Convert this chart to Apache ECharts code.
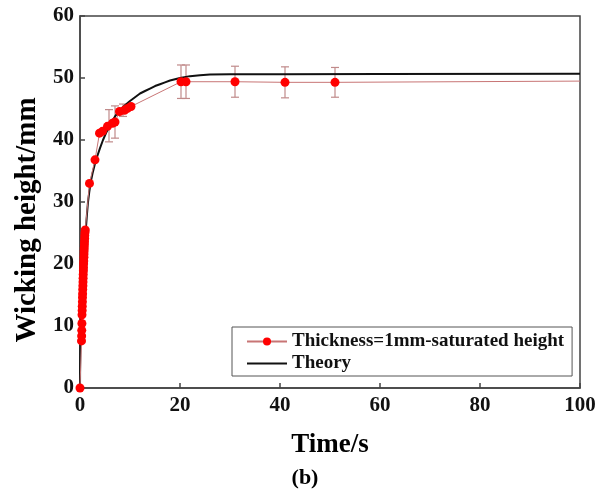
<!DOCTYPE html>
<html>
<head>
<meta charset="utf-8">
<script src="https://cdn.jsdelivr.net/npm/echarts@6/dist/echarts.min.js"></script>
<style>html,body{margin:0;padding:0;background:#fff}#c{width:611px;height:495px}</style>
</head>
<body>
<div id="c"></div>
<script>
// Experimental data: [time (s), wicking height (mm)]
var expData = [
  [0,0],[0.3,7.6],[0.33,8.4],[0.35,9.3],[0.38,10.4],[0.4,11.8],[0.43,12.5],[0.45,13.2],
  [0.48,13.9],[0.5,14.6],[0.52,15.2],[0.55,15.9],[0.58,16.5],[0.6,17.1],[0.62,17.7],
  [0.65,18.3],[0.68,18.9],[0.7,19.4],[0.72,20.0],[0.75,20.5],[0.78,21.1],[0.8,21.6],
  [0.82,22.1],[0.85,22.6],[0.88,23.1],[0.9,23.6],[0.93,24.1],[0.95,24.6],[1.0,25.1],[1.05,25.5],
  [1.9,33.0],[3.0,36.8],[3.9,41.1],[4.5,41.4],[5.5,42.2],[6.5,42.7],[7.0,42.9],
  [7.9,44.6],[8.9,44.8],[9.5,45.1],[10.2,45.4],
  [20.2,49.4],[21.2,49.4],[31,49.4],[41,49.3],[51,49.3]
];
// trailing line end (no marker)
var expTail = [[100,49.5]];
// Error bars: [time, mean, half-range]
var errData = [
  [5.8,42.3,2.6],[7.0,42.9,2.6],[8.6,44.8,1.0],
  [20.2,49.4,2.7],[21.2,49.4,2.7],[31,49.4,2.5],[41,49.3,2.5],[51,49.3,2.4]
];
// Theory curve points
var theoryData = [
  [0,0],[0.02,3],[0.05,5.5],[0.1,8],[0.15,10],[0.25,12.8],[0.35,15],[0.5,17.6],[0.6,19.2],
  [0.75,21.2],[0.9,23],[1.05,24.6],[1.2,26],[1.4,28.1],[1.6,30],[1.85,31.6],[2.1,33],
  [2.5,34.6],[3,36.2],[3.5,37.5],[4,38.7],[4.6,40],[5.2,41.1],[6,42.4],[7,43.8],
  [8,44.8],[9,45.6],[10,46.3],[11,46.9],[12,47.5],[13,47.9],[14,48.3],[15,48.7],
  [16,49.0],[17,49.3],[18,49.6],[19,49.8],[20,50.0],[22,50.3],[24,50.45],[26,50.55],
  [30,50.6],[40,50.6],[60,50.65],[100,50.7]
];
var xTicks = [0,20,40,60,80,100];
var yTicks = [0,10,20,30,40,50,60];

var FONT = '"Liberation Serif","Times New Roman",serif';
var chart = echarts.init(document.getElementById('c'));

var expSeriesData = expData.map(function(p){return p;}).concat(
  expTail.map(function(p){return {value:p, symbolSize:0};}));

chart.setOption({
  animation:false,
  title:{text:'(b)', left:300, top:462, textAlign:'center',
    textStyle:{fontFamily:FONT, fontWeight:'bold', fontSize:22, color:'#000'}},
  graphic:[{
    type:'text', x:28, y:220, rotation:Math.PI/2,
    style:{text:'Wicking height/mm', fontFamily:FONT, fontWeight:'bold', fontSize:29,
      fill:'#000', align:'center', verticalAlign:'middle'}
  }],
  grid:{left:80, right:31, top:16, bottom:107, show:true, borderColor:'#444', borderWidth:1.5,
    backgroundColor:'transparent', containLabel:false, outerBoundsMode:'none'},
  legend:{
    orient:'vertical', left:232, top:327,
    data:[{name:'Thickness=1mm-saturated height'},
          {name:'Theory', itemStyle:{opacity:0}}],
    borderColor:'#555', borderWidth:1, padding:[5,8,3,14], itemGap:3,
    itemWidth:40, itemHeight:10,
    textStyle:{fontFamily:FONT, fontWeight:'bold', fontSize:19, color:'#111'}
  },
  xAxis:{
    type:'value', min:0, max:100, interval:20,
    name:'Time/s', nameLocation:'middle', nameGap:44,
    nameTextStyle:{fontFamily:FONT, fontWeight:'bold', fontSize:27, color:'#000'},
    axisLine:{show:true, lineStyle:{color:'#444', width:1.5}},
    axisTick:{show:true, inside:true, length:5, lineStyle:{color:'#444', width:1.5}},
    axisLabel:{fontFamily:FONT, fontWeight:'bold', fontSize:21, color:'#111', margin:7,
      formatter:function(v){return xTicks.indexOf(v)>=0? String(v):'';}},
    splitLine:{show:false}
  },
  yAxis:{
    type:'value', min:0, max:60, interval:10,
    axisLine:{show:true, lineStyle:{color:'#444', width:1.5}},
    axisTick:{show:true, inside:true, length:5, lineStyle:{color:'#444', width:1.5}},
    axisLabel:{fontFamily:FONT, fontWeight:'bold', fontSize:21, color:'#111', margin:6,
      formatter:function(v){return yTicks.indexOf(v)>=0? String(v):'';}},
    splitLine:{show:false}
  },
  series:[
    {
      name:'errbars', type:'custom', z:3,
      data:errData,
      renderItem:function(params, api){
        var x = api.value(0), m = api.value(1), e = api.value(2);
        var top = api.coord([x, m+e]);
        var bot = api.coord([x, m-e]);
        var cw = 4;
        var st = {stroke:'#c08a8a', lineWidth:1.2};
        return {type:'group', children:[
          {type:'line', shape:{x1:top[0],y1:top[1],x2:bot[0],y2:bot[1]}, style:st},
          {type:'line', shape:{x1:top[0]-cw,y1:top[1],x2:top[0]+cw,y2:top[1]}, style:st},
          {type:'line', shape:{x1:bot[0]-cw,y1:bot[1],x2:bot[0]+cw,y2:bot[1]}, style:st}
        ]};
      }
    },
    {
      name:'Theory', type:'line', data:theoryData, z:4,
      smooth:false, showSymbol:false, symbol:'none',
      lineStyle:{color:'#111', width:2}, itemStyle:{color:'#111'}
    },
    {
      name:'Thickness=1mm-saturated height', type:'line', data:expSeriesData, z:5,
      symbol:'circle', symbolSize:9, showAllSymbol:true,
      lineStyle:{color:'#c87575', width:1}, itemStyle:{color:'#ff0000'}
    }
  ]
});
</script>
</body>
</html>
